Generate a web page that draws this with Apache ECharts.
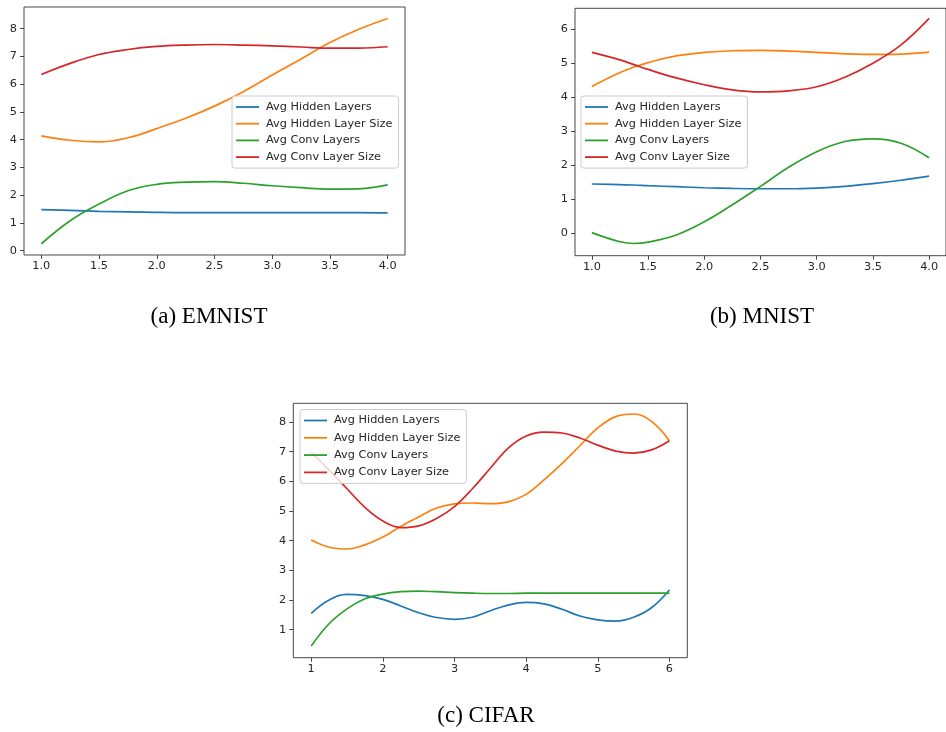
<!DOCTYPE html>
<html>
<head>
<meta charset="utf-8">
<script src="https://cdn.jsdelivr.net/npm/echarts@6.0.0/dist/echarts.min.js"></script>
<style>
  html, body { margin: 0; padding: 0; background: #ffffff; }
  #chart { width: 946px; height: 732px; }
</style>
</head>
<body>
<div id="chart"></div>
<script>
// ---------- data ----------
var seriesNames = ['Avg Hidden Layers', 'Avg Hidden Layer Size', 'Avg Conv Layers', 'Avg Conv Layer Size'];
var seriesColors = ['#1f77b4', '#ff7f0e', '#2ca02c', '#d62728'];
var captions = ['(a) EMNIST', '(b) MNIST', '(c) CIFAR'];

// (a) EMNIST
var xA = [1, 1.25, 1.5, 1.75, 2, 2.25, 2.5, 2.75, 3, 3.25, 3.5, 3.75, 4];
var hidLayersA = [1.48, 1.45, 1.42, 1.40, 1.38, 1.37, 1.37, 1.37, 1.37, 1.37, 1.37, 1.37, 1.36];
var hidSizeA   = [4.14, 3.98, 3.92, 4.07, 4.40, 4.77, 5.21, 5.73, 6.33, 6.91, 7.50, 7.98, 8.37];
var convLayersA = [0.25, 1.08, 1.68, 2.16, 2.39, 2.47, 2.49, 2.43, 2.34, 2.27, 2.22, 2.23, 2.37];
var convSizeA  = [6.35, 6.75, 7.07, 7.25, 7.36, 7.41, 7.43, 7.41, 7.38, 7.34, 7.30, 7.30, 7.35];

// (b) MNIST
var xB = [1, 1.25, 1.375, 1.5, 1.75, 2, 2.25, 2.5, 2.75, 3, 3.25, 3.5, 3.75, 4];
var hidLayersB = [1.45, 1.43, 1.42, 1.40, 1.37, 1.34, 1.32, 1.31, 1.31, 1.33, 1.38, 1.46, 1.56, 1.68];
var hidSizeB   = [4.32, 4.73, 4.89, 5.02, 5.22, 5.32, 5.37, 5.38, 5.36, 5.32, 5.28, 5.26, 5.27, 5.33];
var convLayersB = [0.02, -0.25, -0.30, -0.26, -0.05, 0.34, 0.84, 1.38, 1.94, 2.40, 2.70, 2.78, 2.65, 2.22];
var convSizeB  = [5.32, 5.10, 4.96, 4.82, 4.57, 4.37, 4.22, 4.16, 4.19, 4.31, 4.59, 5.00, 5.54, 6.32];

// (c) CIFAR
var xC = [1, 1.25, 1.5, 1.75, 2, 2.25, 2.5, 2.75, 3, 3.25, 3.5, 3.75, 4, 4.25, 4.5, 4.75, 5, 5.25, 5.5, 5.75, 6];
var hidLayersC = [1.55, 2.00, 2.19, 2.15, 2.02, 1.80, 1.57, 1.41, 1.35, 1.42, 1.64, 1.83, 1.92, 1.87, 1.69, 1.46, 1.33, 1.29, 1.42, 1.74, 2.34];
var hidSizeC   = [4.02, 3.78, 3.72, 3.86, 4.12, 4.48, 4.80, 5.10, 5.24, 5.27, 5.25, 5.31, 5.56, 6.05, 6.60, 7.20, 7.80, 8.18, 8.27, 8.02, 7.37];
var convLayersC = [0.45, 1.20, 1.70, 2.04, 2.20, 2.28, 2.30, 2.28, 2.25, 2.23, 2.22, 2.22, 2.23, 2.23, 2.23, 2.23, 2.23, 2.23, 2.23, 2.23, 2.23];
var convSizeC  = [6.97, 6.38, 5.75, 5.12, 4.66, 4.44, 4.50, 4.75, 5.15, 5.75, 6.44, 7.12, 7.53, 7.66, 7.63, 7.46, 7.22, 7.02, 6.95, 7.06, 7.37];

// tick values
var xTicksAB = [1, 1.5, 2, 2.5, 3, 3.5, 4];
var yTicksA = [0, 1, 2, 3, 4, 5, 6, 7, 8];
var yTicksB = [0, 1, 2, 3, 4, 5, 6];
var xTicksC = [1, 2, 3, 4, 5, 6];
var yTicksC = [1, 2, 3, 4, 5, 6, 7, 8];

// ---------- build ----------
var FONT = 'DejaVu Sans';
var TXT = '#262626';
var AX = '#333333';
var FS = 11.3;

function pairs(xs, ys) { return xs.map(function (x, i) { return [x, ys[i]]; }); }

var panels = [
  { x: xA, ys: [hidLayersA, hidSizeA, convLayersA, convSizeA], xticks: xTicksAB, yticks: yTicksA,
    xmin: 0.85, xmax: 4.15, ymin: -0.155, ymax: 8.782, grid: { left: 24, top: 7, width: 381, height: 248 }, dec: 1,
    legend: { left: 232, top: 96, gap: 2.7 } },
  { x: xB, ys: [hidLayersB, hidSizeB, convLayersB, convSizeB], xticks: xTicksAB, yticks: yTicksB,
    xmin: 0.85, xmax: 4.15, ymin: -0.659, ymax: 6.618, grid: { left: 575, top: 8.3, width: 381.4, height: 247.4 }, dec: 1,
    legend: { left: 581, top: 96, gap: 2.7 } },
  { x: xC, ys: [hidLayersC, hidSizeC, convLayersC, convSizeC], xticks: xTicksC, yticks: yTicksC,
    xmin: 0.75, xmax: 6.25, ymin: 0.056, ymax: 8.63, grid: { left: 293.3, top: 403.3, width: 394, height: 254.4 }, dec: 0,
    legend: { left: 300, top: 409.5, gap: 3.3 } }
];

var grids = [], xAxes = [], yAxes = [], series = [], legends = [];
panels.forEach(function (p, k) {
  grids.push({ show: true, left: p.grid.left, top: p.grid.top, width: p.grid.width, height: p.grid.height,
    borderColor: AX, borderWidth: 0.9, backgroundColor: 'transparent', containLabel: false });
  xAxes.push({
    type: 'value', gridIndex: k, min: p.xmin, max: p.xmax, position: 'bottom',
    axisLine: { show: false, onZero: false },
    splitLine: { show: false },
    axisTick: { show: true, inside: false, length: 4, customValues: p.xticks, lineStyle: { color: AX, width: 0.9 } },
    axisLabel: { customValues: p.xticks, margin: 6, fontFamily: FONT, fontSize: FS, color: TXT,
      formatter: (function (d) { return function (v) { return Number(v).toFixed(d); }; })(p.dec) }
  });
  yAxes.push({
    type: 'value', gridIndex: k, min: p.ymin, max: p.ymax, position: 'left',
    axisLine: { show: false, onZero: false },
    splitLine: { show: false },
    axisTick: { show: true, inside: false, length: 4, customValues: p.yticks, lineStyle: { color: AX, width: 0.9 } },
    axisLabel: { customValues: p.yticks, margin: 7, fontFamily: FONT, fontSize: FS, color: TXT,
      formatter: function (v) { return String(Math.round(v)); } }
  });
  p.ys.forEach(function (ys, j) {
    series.push({
      type: 'line', name: seriesNames[j], xAxisIndex: k, yAxisIndex: k,
      data: pairs(p.x, ys), smooth: 0.4, symbol: 'none', silent: true,
      color: seriesColors[j],
      lineStyle: { color: seriesColors[j], width: 1.7 },
      animation: false, z: 2
    });
  });
  legends.push({
    orient: 'vertical', left: p.legend.left, top: p.legend.top,
    data: seriesNames, icon: 'rect', itemWidth: 23, itemHeight: 1.8, itemGap: p.legend.gap,
    padding: [4, 6, 4, 4], borderColor: '#cccccc', borderWidth: 1, borderRadius: 3,
    backgroundColor: 'rgba(255,255,255,0.8)', selectedMode: false, z: 5,
    textStyle: { fontFamily: FONT, fontSize: FS, color: TXT, lineHeight: 14, padding: [0, 0, 0, 2] }
  });
});

var capPos = [[209, 317], [762, 317], [486, 716]];
var graphics = captions.map(function (t, i) {
  return { type: 'text', x: capPos[i][0], y: capPos[i][1],
    style: { text: t, fill: '#000', font: '23px "Liberation Serif", "Times New Roman", serif',
      align: 'center', verticalAlign: 'middle' } };
});

var chart = echarts.init(document.getElementById('chart'), null, { renderer: 'canvas' });
chart.setOption({
  backgroundColor: '#ffffff',
  animation: false,
  grid: grids,
  xAxis: xAxes,
  yAxis: yAxes,
  legend: legends,
  series: series,
  graphic: graphics
});
</script>
</body>
</html>
